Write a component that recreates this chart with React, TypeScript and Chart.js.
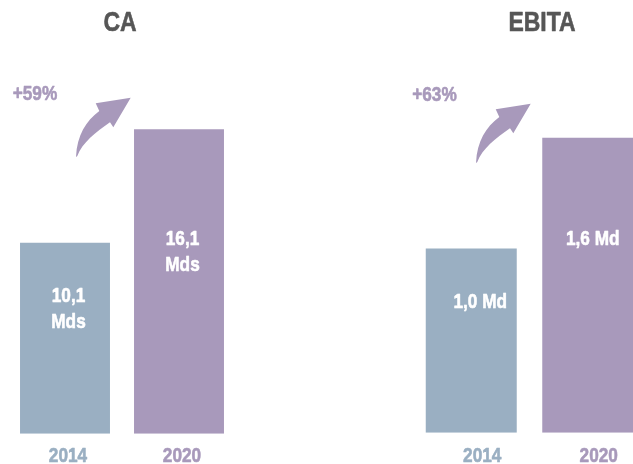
import React, { useEffect, useRef } from "react";
import { Chart, registerables } from "chart.js";

Chart.register(...registerables);

const categories = ["2014", "2020"];
const caValues = [10.1, 16.1];
const ebitaValues = [1.0, 1.6];
const caBarLabels = [["10,1", "Mds"], ["16,1", "Mds"]];
const ebitaBarLabels = [["1,0 Md"], ["1,6 Md"]];
const titles = ["CA", "EBITA"];
const growthLabels = ["+59%", "+63%"];

const BLUE = "#9AAFC2";
const PURPLE = "#A899BB";
const GRAY = "#565656";
const FONT = "'Liberation Sans', Arial, sans-serif";
const NARROW = 0.82;

function narrowText(ctx: CanvasRenderingContext2D, text: string, x: number, y: number) {
  ctx.save();
  ctx.translate(x, y);
  ctx.scale(NARROW, 1);
  ctx.strokeStyle = ctx.fillStyle;
  ctx.lineWidth = 0.6;
  ctx.lineJoin = "round";
  ctx.strokeText(text, 0, 0);
  ctx.fillText(text, 0, 0);
  ctx.restore();
}

const decorPlugin = {
  id: "decor",
  afterDraw(chart: any, _args: any, opts: any) {
    const ctx = chart.ctx as CanvasRenderingContext2D;
    ctx.save();
    ctx.textAlign = "center";
    ctx.textBaseline = "middle";
    // title
    ctx.font = `bold 28px ${FONT}`;
    ctx.fillStyle = GRAY;
    narrowText(ctx, opts.title, opts.titleX, opts.titleY);
    // growth text
    ctx.font = `bold 21px ${FONT}`;
    ctx.fillStyle = PURPLE;
    narrowText(ctx, opts.growth, opts.growthX, opts.growthY);
    // arrow
    const ax = opts.arrowX;
    const ay = opts.arrowY;
    ctx.beginPath();
    ctx.moveTo(ax, ay);
    ctx.bezierCurveTo(ax + 1, ay - 22, ax + 10, ay - 36, ax + 23.3, ay - 46);
    ctx.lineTo(ax + 19.7, ay - 53.7);
    ctx.lineTo(ax + 54.7, ay - 59.3);
    ctx.lineTo(ax + 37.3, ay - 29.7);
    ctx.lineTo(ax + 34, ay - 34.7);
    ctx.bezierCurveTo(ax + 20, ay - 25, ax + 6, ay - 14, ax + 1.3, ay - 1);
    ctx.closePath();
    ctx.fillStyle = PURPLE;
    ctx.fill();
    // bar labels
    const meta = chart.getDatasetMeta(0);
    ctx.font = `bold 21px ${FONT}`;
    ctx.fillStyle = "#FFFFFF";
    meta.data.forEach((bar: any, i: number) => {
      const lines: string[] = opts.barLabels[i];
      const mid = (bar.y + bar.base) / 2;
      const off = opts.labelOffsets[i];
      lines.forEach((line, j) => {
        narrowText(ctx, line, bar.x + off[0], mid + off[1] + j * opts.lineGap);
      });
    });
    // category tick labels, placed with the x scale
    const xs = chart.scales.x;
    ctx.font = `bold 21px ${FONT}`;
    xs.ticks.forEach((_t: any, i: number) => {
      ctx.fillStyle = i === 0 ? BLUE : PURPLE;
      narrowText(ctx, xs.getLabelForValue(i), xs.getPixelForTick(i) + opts.tickDx, chart.chartArea.bottom + opts.tickDy);
    });
    ctx.restore();
  },
};

function makeConfig(values: number[], max: number, padding: any, catPct: number, decor: any) {
  return {
    type: "bar" as const,
    data: {
      labels: categories,
      datasets: [
        {
          data: values,
          backgroundColor: [BLUE, PURPLE],
          borderWidth: 0,
          barPercentage: 1,
          categoryPercentage: catPct,
        },
      ],
    },
    options: {
      responsive: false,
      animation: false as const,
      devicePixelRatio: 1,
      layout: { padding },
      plugins: {
        legend: { display: false },
        tooltip: { enabled: false },
        title: { display: false },
        decor,
      },
      scales: {
        x: {
          grid: { display: false, drawTicks: false },
          border: { display: false },
          ticks: {
            padding: 8.5,
            font: { family: FONT, size: 21, weight: "bold" as const },
            color: "rgba(0,0,0,0)",
          },
        },
        y: { display: false, min: 0, max },
      },
    },
    plugins: [decorPlugin],
  };
}

export default function App() {
  const caRef = useRef<HTMLCanvasElement>(null);
  const ebRef = useRef<HTMLCanvasElement>(null);

  useEffect(() => {
    const c1 = new Chart(
      caRef.current!,
      makeConfig(
        caValues,
        20,
        { left: 8, right: 84, top: 55.4, bottom: 0 },
        0.789,
        {
          title: titles[0],
          titleX: 120,
          titleY: 23.5,
          growth: growthLabels[0],
          growthX: 35,
          growthY: 94,
          arrowX: 76,
          arrowY: 157,
          barLabels: caBarLabels,
          labelOffsets: [[3.5, -42], [3.5, -42]],
          lineGap: 25.5,
          tickDx: 3,
          tickDy: 22,
        }
      ) as any
    );
    const c2 = new Chart(
      ebRef.current!,
      makeConfig(
        ebitaValues,
        2,
        { left: 93, right: 4, top: 64, bottom: 0 },
        0.781,
        {
          title: titles[1],
          titleX: 222,
          titleY: 23.5,
          growth: growthLabels[1],
          growthX: 114.5,
          growthY: 95.5,
          arrowX: 156,
          arrowY: 163,
          barLabels: ebitaBarLabels,
          labelOffsets: [[9, -38.5], [5, -46]],
          lineGap: 25.5,
          tickDx: 11,
          tickDy: 23,
        }
      ) as any
    );
    return () => {
      c1.destroy();
      c2.destroy();
    };
  }, []);

  return (
    <div
      style={{
        position: "fixed",
        left: 0,
        top: 0,
        width: 633,
        height: 464,
        overflow: "hidden",
        background: "#FFFFFF",
      }}
    >
      <canvas ref={caRef} width={320} height={476} style={{ position: "absolute", left: 0, top: 0 }} />
      <canvas ref={ebRef} width={330} height={475} style={{ position: "absolute", left: 320, top: 0 }} />
    </div>
  );
}
